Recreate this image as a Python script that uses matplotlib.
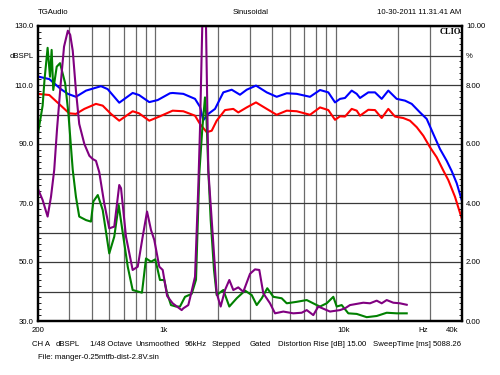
import numpy as np
import matplotlib
matplotlib.use("Agg")
import matplotlib.pyplot as plt

plt.rcParams['font.family'] = ['Liberation Sans', 'DejaVu Sans']

# Level curves (left axis, dBSPL)
blue_freq = [200, 203, 232, 269, 294, 326, 371, 449, 489, 567, 673, 730, 832, 927,
             1084, 1122, 1286, 1493, 1591, 1660, 1769, 1928, 2143, 2386, 2652, 2890,
             3254, 3733, 4238, 4819, 5474, 6490, 7374, 8201, 8933, 9523, 10146, 11054,
             11785, 12294, 13668, 14886, 16218, 17646, 19642, 21841, 23800, 26459,
             28827, 31360, 34163, 37217, 39688, 42300, 45080]
blue_db = [113.0, 112.8, 112.0, 108.6, 107.0, 106.0, 108.1, 109.6, 108.6, 104.0, 107.3,
           106.6, 104.2, 104.9, 107.2, 107.3, 107.0, 105.3, 102.6, 98.1, 100.2, 101.9,
           107.5, 108.4, 106.7, 108.4, 109.8, 107.5, 106.0, 107.2, 107.0, 106.0, 108.3,
           107.5, 104.1, 105.3, 105.6, 108.1, 107.0, 105.6, 107.5, 107.5, 105.3, 108.1,
           105.3, 104.7, 103.6, 100.7, 98.5, 93.4, 88.3, 84.3, 80.8, 76.7, 71.0]

red_freq = [200, 232, 269, 299, 326, 363, 421, 459, 510, 567, 673, 730, 832, 946, 1122,
            1286, 1493, 1591, 1733, 1848, 1969, 2190, 2435, 2595, 2890, 3254, 3733,
            4238, 4819, 5474, 6490, 7374, 8201, 8933, 9523, 10146, 11054, 11785, 12294,
            13668, 14886, 16218, 17646, 19220, 21380, 23280, 25380, 27600, 30066, 32760,
            35640, 37980, 41380, 45080]
red_db = [107.0, 106.6, 103.0, 100.4, 100.2, 101.9, 103.6, 103.0, 100.2, 97.9, 101.1,
          100.4, 97.9, 99.3, 101.3, 101.1, 99.6, 96.8, 94.0, 94.5, 97.9, 101.5, 101.9,
          100.7, 102.4, 104.1, 101.9, 99.9, 101.3, 101.1, 99.9, 102.4, 101.5, 98.2, 99.4,
          99.3, 101.9, 101.3, 99.6, 101.6, 101.5, 98.8, 101.9, 99.3, 98.8, 97.9, 95.7,
          92.8, 88.9, 85.5, 81.0, 77.8, 72.1, 64.8]

# Distortion curves (right axis, %)
purple_freq = [200, 213, 227, 237, 247, 256, 268, 280, 294, 303, 313, 326, 340, 363, 387,
               404, 421, 439, 468, 499, 532, 567, 580, 618, 673, 718, 765, 809, 851, 887,
               946, 988, 1045, 1122, 1259, 1286, 1370, 1400, 1493, 1557, 1591, 1638,
               1680, 1718, 1769, 1848, 1969, 2072, 2190, 2314, 2435, 2595, 2767, 3015,
               3212, 3395, 3572, 3892, 4150, 4614, 5240, 5834, 6222, 6768, 7214, 8378,
               9523, 10146, 10818, 12822, 13968, 15218, 16218, 17290, 18812, 20480, 22330]
purple_pct = [4.50, 4.10, 3.54, 4.21, 5.12, 6.50, 8.00, 9.30, 9.84, 9.70, 9.16, 7.81,
              6.68, 6.00, 5.60, 5.49, 5.43, 5.05, 3.99, 3.14, 3.20, 4.61, 4.50, 2.86,
              1.73, 1.84, 2.86, 3.71, 3.08, 2.75, 1.84, 1.73, 0.85, 0.60, 0.37, 0.43,
              0.54, 0.77, 1.50, 4.55, 6.50, 10.0, 11.5, 10.0, 5.12, 3.42, 0.94, 0.49,
              1.05, 1.39, 1.05, 1.14, 0.99, 1.60, 1.75, 1.73, 0.94, 0.60, 0.26, 0.32,
              0.26, 0.28, 0.37, 0.20, 0.49, 0.32, 0.37, 0.43, 0.54, 0.62, 0.60, 0.69,
              0.60, 0.71, 0.62, 0.60, 0.55]

green_freq = [200, 213, 218, 227, 234, 239, 244, 255, 266, 284, 296, 313, 326, 340, 371,
              395, 407, 431, 459, 499, 532, 563, 597, 632, 673, 758, 798, 851, 899, 954,
              1008, 1045, 1098, 1171, 1232, 1314, 1431, 1512, 1577, 1638, 1696, 1730,
              1769, 1824, 1903, 1969, 2143, 2314, 2543, 2829, 3080, 3285, 3502, 3759,
              4061, 4519, 4819, 5474, 6222, 7070, 7374, 8032, 8740, 9128, 9728, 10586,
              11785, 13392, 15218, 17290, 19642, 22330]
green_pct = [6.3, 7.3, 8.15, 9.26, 8.28, 9.19, 7.83, 8.62, 8.74, 8.06, 7.04, 5.12, 4.21,
             3.54, 3.42, 3.37, 4.05, 4.27, 3.76, 2.29, 2.86, 3.93, 2.86, 1.84, 1.05, 0.96,
             2.12, 2.01, 2.09, 1.39, 1.39, 0.94, 0.54, 0.49, 0.49, 0.82, 0.92, 1.40, 5.00,
             6.50, 7.58, 6.80, 5.12, 3.42, 1.73, 0.88, 1.05, 0.49, 0.77, 1.03, 0.88, 0.54,
             0.77, 1.11, 0.82, 0.77, 0.60, 0.65, 0.71, 0.54, 0.49, 0.60, 0.82, 0.49, 0.54,
             0.26, 0.24, 0.13, 0.17, 0.28, 0.26, 0.26]

grid_freqs = [200, 300, 400, 500, 600, 700, 800, 900, 1000, 2000, 3000, 4000, 5000,
              6000, 7000, 8000, 9000, 10000, 20000, 30000, 40000]
x_label_pos = [200, 1000, 10000, 27500, 40000]
x_labels = ['200', '1k', '10k', 'Hz', '40k']
db_ticks = [30, 40, 50, 60, 70, 80, 90, 100, 110, 120, 130]
db_labels = ['30.0', '', '50.0', '', '70.0', '', '90.0', '', '110.0', 'dBSPL', '130.0']
pct_ticks = [0, 1, 2, 3, 4, 5, 6, 7, 8, 9, 10]
pct_labels = ['0.00', '', '2.00', '', '4.00', '', '6.00', '', '8.00', '%', '10.00']

FS = 5.6

fig = plt.figure(figsize=(5, 3.75), dpi=100)
fig.patch.set_facecolor('white')
ax = fig.add_axes([37.7 / 500, 1 - 321 / 375, 424 / 500, 295 / 375])
ax.set_xscale('log')
ax.set_xlim(200, 45080)
ax.set_ylim(30, 130)

# grid
ax.set_xticks(grid_freqs, minor=True)
ax.set_xticks(x_label_pos)
ax.set_xticklabels(x_labels, fontsize=FS)
ax.grid(True, which='minor', axis='x', color='#6a6a6a', lw=0.9)
ax.set_yticks(db_ticks)
ax.set_yticklabels(db_labels, fontsize=FS)
ax.set_yticks(np.arange(30, 131, 2), minor=True)
ax.grid(True, which='major', axis='y', color='#3a3a3a', lw=0.9)
ax.tick_params(axis='x', which='both', length=0, pad=4.5)
ax.tick_params(axis='y', which='major', length=0, pad=3)
ax.tick_params(axis='y', which='minor', length=2, direction='in', width=0.6)

ax.plot(blue_freq, blue_db, color='#0000ff', lw=1.5, zorder=3)
ax.plot(red_freq, red_db, color='#ff0000', lw=1.5, zorder=3)

ax2 = ax.twinx()
ax2.set_ylim(0, 10)
ax2.set_yticks(pct_ticks)
ax2.set_yticklabels(pct_labels, fontsize=FS)
ax2.set_yticks(np.arange(0, 10.01, 0.2), minor=True)
ax2.tick_params(axis='y', which='major', length=0, pad=3)
ax2.tick_params(axis='y', which='minor', length=2, direction='in', width=0.6)
ax2.plot(green_freq, green_pct, color='#008000', lw=1.5)
ax2.plot(purple_freq, purple_pct, color='#800080', lw=1.5)

for a in (ax, ax2):
    for s in a.spines.values():
        s.set_linewidth(1.6)
        s.set_color('black')

# header / footer texts
fig.text(37.7 / 500, 1 - 13 / 375, 'TGAudio', fontsize=FS, va='center', ha='left')
fig.text(250.5 / 500, 1 - 13 / 375, 'Sinusoidal', fontsize=FS, va='center', ha='center')
fig.text(461.7 / 500, 1 - 13 / 375, '10-30-2011 11.31.41 AM', fontsize=FS,
         va='center', ha='right')
fig.text(460.5 / 500, 1 - 32 / 375, 'CLIO', fontsize=6, va='center', ha='right',
         family='Liberation Serif', weight='bold')

footer = [(32.3, 'CH A'), (56, 'dBSPL'), (90, '1/48 Octave'), (135.7, 'Unsmoothed'),
          (184.3, '96kHz'), (212, 'Stepped'), (249.5, 'Gated'),
          (278.3, 'Distortion Rise [dB] 15.00'), (373.3, 'SweepTime [ms] 5088.26')]
for x, t in footer:
    fig.text(x / 500, 1 - 344.3 / 375, t, fontsize=FS, va='center', ha='left')
fig.text(38.3 / 500, 1 - 357.5 / 375, 'File: manger-0.25mtfb-dist-2.8V.sin',
         fontsize=FS, va='center', ha='left')

fig.savefig('out.png', dpi=100, facecolor='white')
